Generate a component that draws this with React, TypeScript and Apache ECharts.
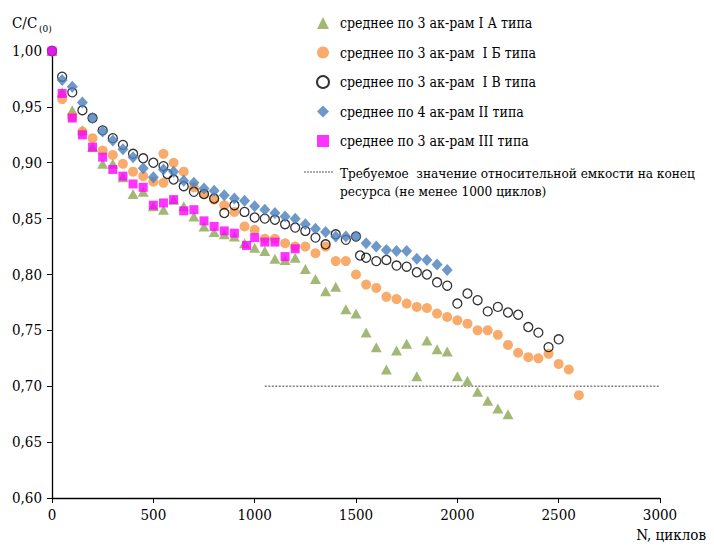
import React, { useEffect, useRef } from "react";
import * as echarts from "echarts";

// ---- data ----
const nIA = [0, 50, 100, 150, 200, 250, 300, 350, 400, 450, 500, 550, 600, 650, 700, 750, 800, 850, 900, 950, 1000, 1050, 1100, 1150, 1200, 1250, 1300, 1350, 1400, 1450, 1500, 1550, 1600, 1650, 1700, 1750, 1800, 1850, 1900, 1950, 2000, 2050, 2100, 2150, 2200, 2250];
const vIA = [1.0, 0.963, 0.947, 0.929, 0.914, 0.899, 0.899, 0.887, 0.872, 0.874, 0.861, 0.858, 0.867, 0.861, 0.852, 0.843, 0.838, 0.836, 0.834, 0.828, 0.824, 0.821, 0.814, 0.813, 0.815, 0.805, 0.796, 0.785, 0.789, 0.769, 0.765, 0.748, 0.735, 0.715, 0.732, 0.738, 0.709, 0.741, 0.733, 0.731, 0.709, 0.705, 0.695, 0.687, 0.680, 0.675];

const nIB = [0, 50, 100, 150, 200, 250, 300, 350, 400, 450, 500, 550, 550, 600, 650, 700, 750, 800, 850, 900, 950, 1000, 1050, 1100, 1150, 1200, 1250, 1300, 1350, 1400, 1450, 1500, 1550, 1600, 1650, 1700, 1750, 1800, 1850, 1900, 1950, 2000, 2050, 2100, 2150, 2200, 2250, 2300, 2350, 2400, 2450, 2500, 2550, 2600];
const vIB = [1.0, 0.957, 0.941, 0.928, 0.922, 0.911, 0.907, 0.899, 0.892, 0.888, 0.883, 0.908, 0.882, 0.9, 0.892, 0.878, 0.872, 0.867, 0.862, 0.856, 0.843, 0.84, 0.832, 0.832, 0.828, 0.825, 0.825, 0.819, 0.825, 0.812, 0.812, 0.8, 0.791, 0.788, 0.78, 0.778, 0.774, 0.771, 0.77, 0.765, 0.762, 0.759, 0.756, 0.75, 0.75, 0.746, 0.737, 0.73, 0.726, 0.725, 0.729, 0.72, 0.715, 0.692];

const nIV = [0, 50, 100, 150, 200, 250, 300, 350, 400, 450, 500, 550, 570, 600, 650, 700, 750, 800, 850, 900, 950, 1000, 1050, 1100, 1150, 1200, 1250, 1300, 1350, 1400, 1450, 1500, 1520, 1550, 1600, 1650, 1700, 1750, 1800, 1850, 1900, 1950, 2000, 2050, 2100, 2150, 2200, 2250, 2300, 2350, 2400, 2450, 2500];
const vIV = [1.0, 0.977, 0.963, 0.947, 0.94, 0.929, 0.922, 0.916, 0.908, 0.904, 0.9, 0.897, 0.89, 0.885, 0.879, 0.874, 0.872, 0.868, 0.855, 0.862, 0.856, 0.851, 0.85, 0.849, 0.845, 0.842, 0.839, 0.833, 0.827, 0.836, 0.831, 0.834, 0.817, 0.815, 0.812, 0.813, 0.808, 0.807, 0.802, 0.8, 0.793, 0.79, 0.774, 0.783, 0.777, 0.767, 0.771, 0.766, 0.764, 0.753, 0.748, 0.735, 0.742];

const nII = [0, 50, 100, 150, 200, 250, 300, 350, 400, 450, 500, 550, 600, 650, 700, 750, 800, 850, 900, 950, 1000, 1050, 1100, 1150, 1200, 1250, 1300, 1350, 1400, 1450, 1500, 1550, 1600, 1650, 1700, 1750, 1800, 1850, 1900, 1950];
const vII = [1.0, 0.974, 0.968, 0.954, 0.94, 0.928, 0.92, 0.912, 0.905, 0.895, 0.887, 0.894, 0.892, 0.884, 0.882, 0.877, 0.875, 0.871, 0.868, 0.866, 0.861, 0.858, 0.855, 0.852, 0.85, 0.845, 0.841, 0.838, 0.834, 0.834, 0.834, 0.828, 0.825, 0.822, 0.821, 0.821, 0.814, 0.813, 0.809, 0.804];

const nIII = [0, 50, 100, 150, 200, 250, 300, 350, 400, 450, 500, 550, 600, 650, 700, 750, 800, 850, 900, 960, 1000, 1050, 1100, 1150, 1200];
const vIII = [1.0, 0.962, 0.94, 0.925, 0.914, 0.905, 0.894, 0.888, 0.881, 0.878, 0.862, 0.864, 0.867, 0.857, 0.858, 0.848, 0.843, 0.839, 0.837, 0.826, 0.833, 0.829, 0.829, 0.816, 0.823];

const thresholdN = [1050, 3000];
const thresholdV = [0.7, 0.7];

const seriesNames = [
  "среднее по 3 ак-рам I А типа",
  "среднее по 3 ак-рам  I Б типа",
  "среднее по 3 ак-рам  I В типа",
  "среднее по 4 ак-рам II типа",
  "среднее по 3 ак-рам III типа",
];
const thresholdName = "Требуемое  значение относительной емкости на конец\nресурса (не менее 1000 циклов)";
const yTicks = [0.6, 0.65, 0.7, 0.75, 0.8, 0.85, 0.9, 0.95, 1.0];

const zip = (a: number[], b: number[]) => a.map((x, i) => [x, b[i]]);
const FONT = "DejaVu Serif Condensed, DejaVu Serif";

export default function App() {
  const ref = useRef<HTMLDivElement>(null);
  useEffect(() => {
    if (!ref.current) return;
    const chart = echarts.init(ref.current, undefined, { renderer: "svg" });
    chart.setOption({
      animation: false,
      backgroundColor: "#ffffff",
      textStyle: { fontFamily: FONT },
      grid: { left: 52, top: 51, right: 54, bottom: 55 },
      xAxis: {
        type: "value",
        min: 0,
        max: 3000,
        interval: 500,
        axisLine: { show: true, onZero: false, lineStyle: { color: "#000", width: 1.3 } },
        axisTick: { show: true, length: 5, lineStyle: { color: "#000" } },
        splitLine: { show: false },
        axisLabel: {
          color: "#000",
          fontSize: 15,
          fontFamily: FONT,
          margin: 9,
          formatter: (v: number) => String(Math.round(v)),
        },
      },
      yAxis: {
        type: "value",
        min: 0.6,
        max: 1.0,
        interval: 0.05,
        axisLine: { show: true, onZero: false, lineStyle: { color: "#000", width: 1.3 } },
        axisTick: { show: true, length: 5, lineStyle: { color: "#000" } },
        splitLine: { show: false },
        axisLabel: {
          color: "#000",
          fontSize: 15,
          fontFamily: FONT,
          margin: 10,
          formatter: (v: number) => {
            const t = yTicks.find((k) => Math.abs(k - v) < 1e-6);
            return (t !== undefined ? t : v).toFixed(2).replace(".", ",");
          },
        },
      },
      legend: {
        data: seriesNames,
        orient: "vertical",
        left: 311,
        top: 11,
        itemWidth: 12,
        itemHeight: 12,
        itemGap: 15.5,
        textStyle: { fontSize: 14, fontFamily: FONT, color: "#000", padding: [0, 0, 0, 6] },
      },
      series: [
        {
          name: thresholdName,
          type: "line",
          data: zip(thresholdN, thresholdV),
          symbol: "none",
          lineStyle: { color: "#808080", type: [2, 1.5], width: 1.5 },
          z: 1,
        },
        {
          name: seriesNames[0],
          type: "scatter",
          data: zip(nIA, vIA),
          symbol: "triangle",
          symbolSize: [11, 10],
          itemStyle: { color: "#8DA653" },
          z: 2,
        },
        {
          name: seriesNames[1],
          type: "scatter",
          data: zip(nIB, vIB),
          symbol: "circle",
          symbolSize: 10,
          itemStyle: { color: "#F79646" },
          z: 3,
        },
        {
          name: seriesNames[2],
          type: "scatter",
          data: zip(nIV, vIV),
          symbol: "circle",
          symbolSize: 9,
          itemStyle: { color: "rgba(255,255,255,0)", borderColor: "#000", borderWidth: 1.3 },
          z: 4,
        },
        {
          name: seriesNames[3],
          type: "scatter",
          data: zip(nII, vII),
          symbol: "diamond",
          symbolSize: [11, 12],
          itemStyle: { color: "#4A7EBB" },
          z: 5,
        },
        {
          name: seriesNames[4],
          type: "scatter",
          data: zip(nIII, vIII),
          symbol: "rect",
          symbolSize: 9,
          itemStyle: { color: "#FF00FF" },
          z: 6,
        },
      ],
      graphic: [
        {
          type: "text",
          left: 12,
          top: 15,
          style: { text: "C/C", fontSize: 15, fontFamily: FONT, fill: "#000" },
        },
        {
          type: "text",
          left: 39,
          top: 23,
          style: { text: "(0)", fontSize: 10, fontFamily: FONT, fill: "#000" },
        },
        {
          type: "text",
          right: 8,
          top: 527,
          style: { text: "N, циклов", fontSize: 15, fontFamily: FONT, fill: "#000" },
        },
        {
          type: "line",
          shape: { x1: 304, y1: 172, x2: 333, y2: 172 },
          style: { stroke: "#555", lineWidth: 1, lineDash: [2, 1] },
        },
        {
          type: "text",
          left: 340,
          top: 164,
          style: {
            text: "Требуемое  значение относительной емкости на конец\nресурса (не менее 1000 циклов)",
            fontSize: 13.5,
            fontFamily: FONT,
            lineHeight: 18,
            fill: "#000",
          },
        },
      ],
    });
    return () => chart.dispose();
  }, []);
  return <div ref={ref} style={{ width: 714, height: 553, margin: -8 }} />;
}
